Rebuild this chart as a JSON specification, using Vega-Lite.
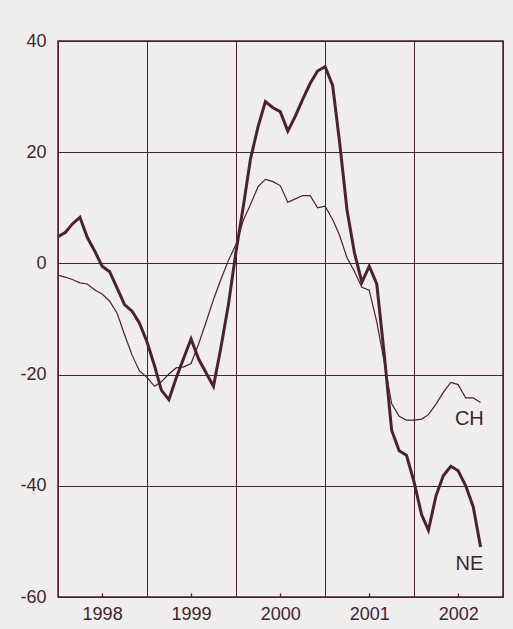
{
  "$schema": "https://vega.github.io/schema/vega-lite/v6.json",
  "width": 445,
  "height": 556,
  "autosize": "none",
  "padding": {"left": 58, "top": 41, "right": 10, "bottom": 32},
  "background": "#f0eeec",
  "config": {
    "view": {"stroke": "#4a2233", "strokeWidth": 1.5},
    "font": "Liberation Sans"
  },
  "datasets": {
    "idx": [
      {"date": "1998-01-01T00:00:00", "NE": 4.8, "CH": -2.1},
      {"date": "1998-02-01T00:00:00", "NE": 5.6, "CH": -2.5},
      {"date": "1998-03-01T00:00:00", "NE": 7.1, "CH": -2.9},
      {"date": "1998-04-01T00:00:00", "NE": 8.3, "CH": -3.5},
      {"date": "1998-05-01T00:00:00", "NE": 4.7, "CH": -3.7},
      {"date": "1998-06-01T00:00:00", "NE": 2.2, "CH": -4.8},
      {"date": "1998-07-01T00:00:00", "NE": -0.5, "CH": -5.5},
      {"date": "1998-08-01T00:00:00", "NE": -1.5, "CH": -6.8},
      {"date": "1998-09-01T00:00:00", "NE": -4.5, "CH": -9.0},
      {"date": "1998-10-01T00:00:00", "NE": -7.4, "CH": -12.8},
      {"date": "1998-11-01T00:00:00", "NE": -8.6, "CH": -16.5},
      {"date": "1998-12-01T00:00:00", "NE": -10.7, "CH": -19.3},
      {"date": "1999-01-01T00:00:00", "NE": -14.1, "CH": -20.5},
      {"date": "1999-02-01T00:00:00", "NE": -18.4, "CH": -22.1},
      {"date": "1999-03-01T00:00:00", "NE": -22.8, "CH": -21.3},
      {"date": "1999-04-01T00:00:00", "NE": -24.5, "CH": -19.9},
      {"date": "1999-05-01T00:00:00", "NE": -20.6, "CH": -18.8},
      {"date": "1999-06-01T00:00:00", "NE": -17.0, "CH": -18.6},
      {"date": "1999-07-01T00:00:00", "NE": -13.6, "CH": -18.0},
      {"date": "1999-08-01T00:00:00", "NE": -17.2, "CH": -14.5},
      {"date": "1999-09-01T00:00:00", "NE": -19.7, "CH": -10.5},
      {"date": "1999-10-01T00:00:00", "NE": -22.1, "CH": -6.5},
      {"date": "1999-11-01T00:00:00", "NE": -15.0, "CH": -2.8},
      {"date": "1999-12-01T00:00:00", "NE": -7.5, "CH": 0.5},
      {"date": "2000-01-01T00:00:00", "NE": 2.0, "CH": 3.4},
      {"date": "2000-02-01T00:00:00", "NE": 10.4, "CH": 7.8},
      {"date": "2000-03-01T00:00:00", "NE": 18.8, "CH": 10.6},
      {"date": "2000-04-01T00:00:00", "NE": 24.6, "CH": 13.8},
      {"date": "2000-05-01T00:00:00", "NE": 29.1, "CH": 15.1},
      {"date": "2000-06-01T00:00:00", "NE": 28.0, "CH": 14.7},
      {"date": "2000-07-01T00:00:00", "NE": 27.3, "CH": 14.0},
      {"date": "2000-08-01T00:00:00", "NE": 23.8, "CH": 11.0},
      {"date": "2000-09-01T00:00:00", "NE": 26.5, "CH": 11.6},
      {"date": "2000-10-01T00:00:00", "NE": 29.5, "CH": 12.2},
      {"date": "2000-11-01T00:00:00", "NE": 32.4, "CH": 12.2},
      {"date": "2000-12-01T00:00:00", "NE": 34.6, "CH": 10.0},
      {"date": "2001-01-01T00:00:00", "NE": 35.4, "CH": 10.3},
      {"date": "2001-02-01T00:00:00", "NE": 32.0, "CH": 7.9},
      {"date": "2001-03-01T00:00:00", "NE": 22.0, "CH": 5.1},
      {"date": "2001-04-01T00:00:00", "NE": 9.6, "CH": 1.0},
      {"date": "2001-05-01T00:00:00", "NE": 2.0, "CH": -1.4},
      {"date": "2001-06-01T00:00:00", "NE": -3.4, "CH": -4.3},
      {"date": "2001-07-01T00:00:00", "NE": -0.5, "CH": -4.8},
      {"date": "2001-08-01T00:00:00", "NE": -3.7, "CH": -10.5},
      {"date": "2001-09-01T00:00:00", "NE": -16.5, "CH": -17.8},
      {"date": "2001-10-01T00:00:00", "NE": -30.0, "CH": -25.2},
      {"date": "2001-11-01T00:00:00", "NE": -33.7, "CH": -27.5},
      {"date": "2001-12-01T00:00:00", "NE": -34.5, "CH": -28.2},
      {"date": "2002-01-01T00:00:00", "NE": -39.3, "CH": -28.2},
      {"date": "2002-02-01T00:00:00", "NE": -45.2, "CH": -28.0},
      {"date": "2002-03-01T00:00:00", "NE": -48.0, "CH": -27.2},
      {"date": "2002-04-01T00:00:00", "NE": -41.8, "CH": -25.3},
      {"date": "2002-05-01T00:00:00", "NE": -38.2, "CH": -23.2},
      {"date": "2002-06-01T00:00:00", "NE": -36.5, "CH": -21.4},
      {"date": "2002-07-01T00:00:00", "NE": -37.3, "CH": -21.8},
      {"date": "2002-08-01T00:00:00", "NE": -40.0, "CH": -24.2},
      {"date": "2002-09-01T00:00:00", "NE": -43.8, "CH": -24.2},
      {"date": "2002-10-01T00:00:00", "NE": -51.0, "CH": -25.0}
    ],
    "labels": [
      {"label": "CH", "date": "2002-08-16T00:00:00", "value": -28},
      {"label": "NE", "date": "2002-08-16T00:00:00", "value": -54}
    ]
  },
  "layer": [
    {
      "data": {"name": "idx"},
      "mark": {"type": "line", "color": "#4a2233", "strokeWidth": 1.2},
      "encoding": {
        "x": {
          "field": "date",
          "type": "temporal",
          "title": null,
          "scale": {
            "domain": [{"year": 1998, "month": 1, "date": 1}, {"year": 2003, "month": 1, "date": 1}],
            "nice": false
          },
          "axis": {
            "values": [
              {"year": 1998, "month": 1, "date": 1}, {"year": 1998, "month": 4, "date": 1}, {"year": 1998, "month": 7, "date": 1}, {"year": 1998, "month": 10, "date": 1},
              {"year": 1999, "month": 1, "date": 1}, {"year": 1999, "month": 4, "date": 1}, {"year": 1999, "month": 7, "date": 1}, {"year": 1999, "month": 10, "date": 1},
              {"year": 2000, "month": 1, "date": 1}, {"year": 2000, "month": 4, "date": 1}, {"year": 2000, "month": 7, "date": 1}, {"year": 2000, "month": 10, "date": 1},
              {"year": 2001, "month": 1, "date": 1}, {"year": 2001, "month": 4, "date": 1}, {"year": 2001, "month": 7, "date": 1}, {"year": 2001, "month": 10, "date": 1},
              {"year": 2002, "month": 1, "date": 1}, {"year": 2002, "month": 4, "date": 1}, {"year": 2002, "month": 7, "date": 1}, {"year": 2002, "month": 10, "date": 1},
              {"year": 2003, "month": 1, "date": 1}
            ],
            "grid": true,
            "gridColor": {"condition": {"test": "month(datum.value) == 0", "value": "#4a2233"}, "value": "transparent"},
            "gridWidth": 1,
            "gridOpacity": 1,
            "domain": false,
            "ticks": true,
            "tickSize": -4,
            "tickWidth": 1.3,
            "tickColor": {"condition": {"test": "month(datum.value) == 0", "value": "transparent"}, "value": "#4a2233"},
            "labelExpr": "month(datum.value) == 6 ? timeFormat(datum.value, '%Y') : ''",
            "labelOverlap": false,
            "labelFlush": false,
            "labelPadding": 12,
            "labelFontSize": 18,
            "labelColor": "#3d2530",
            "labelFont": "Liberation Sans"
          }
        },
        "y": {
          "field": "CH",
          "type": "quantitative",
          "title": null,
          "scale": {"domain": [-60, 40], "nice": false},
          "axis": {
            "values": [-60, -40, -20, 0, 20, 40],
            "grid": true,
            "gridColor": "#4a2233",
            "gridWidth": 1,
            "gridOpacity": 1,
            "domain": false,
            "ticks": false,
            "labelExpr": "'' + datum.value",
            "labelPadding": 12,
            "labelFontSize": 18,
            "labelColor": "#3d2530",
            "labelFont": "Liberation Sans"
          }
        }
      }
    },
    {
      "data": {"name": "idx"},
      "mark": {"type": "line", "color": "#4a2233", "strokeWidth": 3},
      "encoding": {
        "x": {"field": "date", "type": "temporal"},
        "y": {"field": "NE", "type": "quantitative"}
      }
    },
    {
      "data": {"name": "labels"},
      "mark": {"type": "text", "fontSize": 20, "color": "#3d2530", "font": "Liberation Sans"},
      "encoding": {
        "x": {"field": "date", "type": "temporal"},
        "y": {"field": "value", "type": "quantitative"},
        "text": {"field": "label"}
      }
    }
  ]
}
